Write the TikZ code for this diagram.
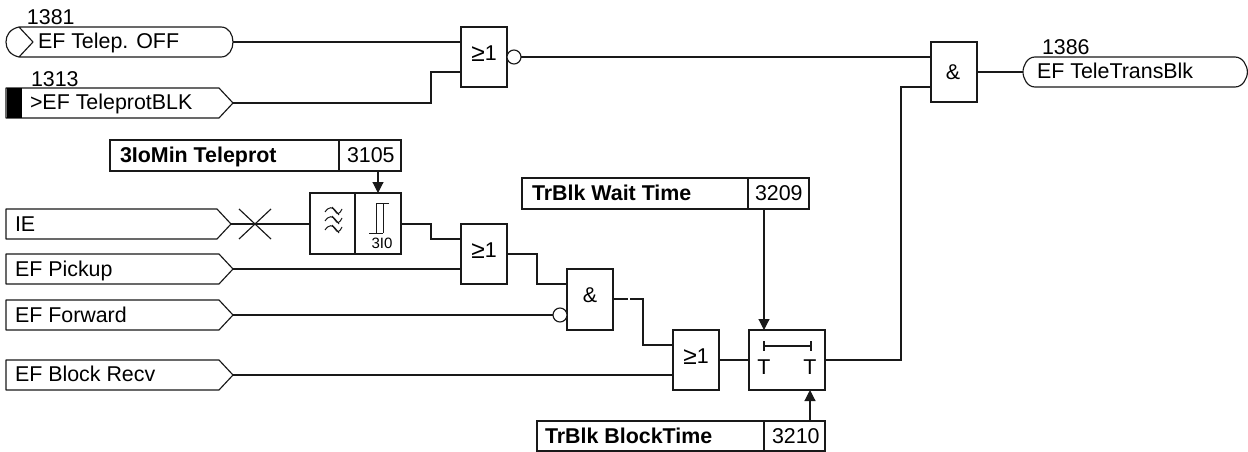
\documentclass[tikz,border=0pt]{standalone}
\usepackage{fontspec}
\setmainfont{Liberation Sans}
\usetikzlibrary{arrows.meta}
\newcommand{\gecon}{\raisebox{-1pt}{\scalebox{1.15}{≥}}1}
\tikzset{
  wire/.style={line width=1.15pt,draw=black!90},
  arr/.style={wire,-{Triangle[length=11pt,width=11pt]}},
  box/.style={draw=black!90,line width=1.15pt,inner sep=0pt,outer sep=0pt,fill=white},
  gatebox/.style={box,anchor=north west,minimum width=46pt,minimum height=60pt},
  txt/.style={inner sep=0pt,outer sep=0pt,anchor=base west,font=\fontsize{21.4}{24}\selectfont},
  bold/.style={txt,font=\fontsize{21.4}{24}\selectfont\bfseries},
  gtxt/.style={inner sep=0pt,outer sep=0pt,anchor=base,font=\fontsize{21.4}{24}\selectfont},
  bub/.style={draw=black!90,line width=1.15pt,fill=white,circle,minimum size=14pt,inner sep=0pt,outer sep=0pt},
  sigline/.style={draw=black!90,line width=1.15pt,line join=round},
}
% \insig{coord name}{y top}{tip x}
\newcommand{\insig}[3]{%
  \draw[sigline] (6,#2) -- ({#3-14},#2) -- (#3,{#2+15}) -- ({#3-14},{#2+30}) -- (6,{#2+30}) -- cycle;
  \coordinate (#1) at (#3,{#2+15});}
\begin{document}
\begin{tikzpicture}[x=1pt,y=-1pt]
\useasboundingbox (0,0) rectangle (1248,452);
% gates
\node[gatebox] (g1) at (461,27) {};
\node[gatebox] (a2) at (931,42) {};
\node[gatebox] (g3) at (461,224) {};
\node[gatebox,minimum height=61pt] (a4) at (567,269) {};
\node[gatebox] (g5) at (673,330) {};
\node[gatebox,minimum width=76pt] (tm) at (749,330) {};
\node[gtxt] (g1t) at (484,60) {\gecon};
\node[gtxt] (a2t) at (953,80) {\&};
\node[gtxt] (g3t) at (484,257) {\gecon};
\node[gtxt] (a4t) at (590,302) {\&};
\node[gtxt] (g5t) at (696,363) {\gecon};
% top-left signals
\draw[sigline] (19,27) -- (221,27) .. controls (229,27) and (233,35) .. (233,42) .. controls (233,49) and (229,57) .. (221,57) -- (19,57)
  .. controls (10,55) and (6,49) .. (6,42) .. controls (6,35) and (10,29) .. (19,27) -- (33,42) -- (19,57);
\coordinate (s1) at (233,42);
\insig{s2}{88}{233}
\fill[black] (7,88) rectangle (22,118);
\insig{s3}{209}{231}
\insig{s4}{254}{233}
\insig{s5}{300}{233}
\insig{s6}{360}{233}
% output
\draw[sigline] (1035,57) -- (1235,57) .. controls (1243,57) and (1247.4,66) .. (1247.4,72) .. controls (1247.4,78) and (1243,87) .. (1235,87) -- (1035,87)
  .. controls (1027,87) and (1023,78) .. (1023,72) .. controls (1023,66) and (1027,57) .. (1035,57) -- cycle;
\coordinate (out) at (1023,72);
% labels
\node[txt] (n1) at (27,25) {1381};
\node[txt] (l1) at (38,49) {EF Telep. OFF};
\node[txt] (n2) at (31,86) {1313};
\node[txt] (l2) at (30,109) {>EF TeleprotBLK};
\node[txt] (l3) at (15,231) {IE};
\node[txt] (l4) at (15,276) {EF Pickup};
\node[txt] (l5) at (15,322) {EF Forward};
\node[txt] (l6) at (15,381) {EF Block Recv};
\node[txt] (n3) at (1042,55) {1386};
\node[txt] (l7) at (1037,79) {EF TeleTransBlk};
% parameter boxes
\node[box,anchor=north west,minimum width=229pt,minimum height=31pt] (p1) at (110,140) {};
\node[box,anchor=north west,minimum width=62pt,minimum height=31pt] (p1v) at (339,140) {};
\node[bold] (p1t) at (120,162) {3IoMin Teleprot};
\node[txt] (p1n) at (347,162) {3105};
\node[box,anchor=north west,minimum width=226pt,minimum height=31pt] (p2) at (522,178) {};
\node[box,anchor=north west,minimum width=61pt,minimum height=31pt] (p2v) at (748,178) {};
\node[bold] (p2t) at (532,200) {TrBlk Wait Time};
\node[txt] (p2n) at (755,200) {3209};
\node[box,anchor=north west,minimum width=227pt,minimum height=30pt] (p3) at (537,421) {};
\node[box,anchor=north west,minimum width=61pt,minimum height=30pt] (p3v) at (764,421) {};
\node[bold] (p3t) at (545,443) {TrBlk BlockTime};
\node[txt] (p3n) at (772,443) {3210};
% filter + threshold
\node[box,anchor=north west,minimum width=45pt,minimum height=61pt] (fl) at (310,193) {};
\node[box,anchor=north west,minimum width=46pt,minimum height=61pt] (th) at (355,193) {};
\foreach \yy in {211,220,229}{
  \draw[line width=1pt,draw=black!90] (325,\yy+1) .. controls (329,\yy-5) and (333,\yy-4) .. (335,\yy) .. controls (337,\yy+4) and (340,\yy+3) .. (342,\yy-2);
  \draw[line width=1pt,draw=black!90] (332,\yy-4) -- (335,\yy-1) -- (339,\yy+4);
}
\draw[line width=1pt,draw=black!90] (389,203) -- (376,203) -- (376,233) (383,203) -- (383,233) (369,233) -- (383,233);
\node[gtxt,font=\fontsize{15}{16}\selectfont] (tl) at (382,248) {3I0};
% cross
\coordinate (xc) at (255,224);
\draw[wire] (239,209) -- (271,239) (271,209) -- (239,239);
% bubbles
\node[bub] (b1) at (514,57) {};
\node[bub] (b2) at (560,315) {};
% timer internals
\draw[wire] (764,341) -- (764,351) (764,346) -- (811,346) (811,341) -- (811,351);
\node[gtxt] (t1) at (764,374) {T};
\node[gtxt] (t2) at (810,374) {T};
% wires
\draw[wire] (s1) -- (g1.west |- s1);
\draw[wire] (s2) -- (431,103) -- (431,72) -- (g1.west |- 431,72);
\draw[wire] (b1.east) -- (a2.west |- b1.east);
\draw[wire] (a2.east) -- (out);
\draw[wire] (a2.west |- 0,87) -- (901,87) -- (901,360) -- (tm.east);
\draw[wire] (s3) -- (fl.west |- s3);
\draw[wire] (th.east |- s3) -- (431,224) -- (431,239) -- (g3.west |- 0,239);
\draw[wire] (s4) -- (g3.west |- s4);
\draw[wire] (g3.east) -- (537,254) -- (537,284) -- (a4.west |- 0,284);
\draw[wire] (s5) -- (b2.west);
\draw[wire] (a4.east |- 0,299) -- (628,299);
\draw[wire] (630,299) -- (643,299) -- (643,345) -- (g5.west |- 0,345);
\draw[wire] (s6) -- (g5.west |- s6);
\draw[wire] (g5.east) -- (tm.west);
\draw[arr] (th.north |- p1v.south) -- (th.north);
\draw[arr] (764,209) -- (764,330);
\draw[arr] (810,421) -- (810,390);
\end{tikzpicture}
\end{document}
